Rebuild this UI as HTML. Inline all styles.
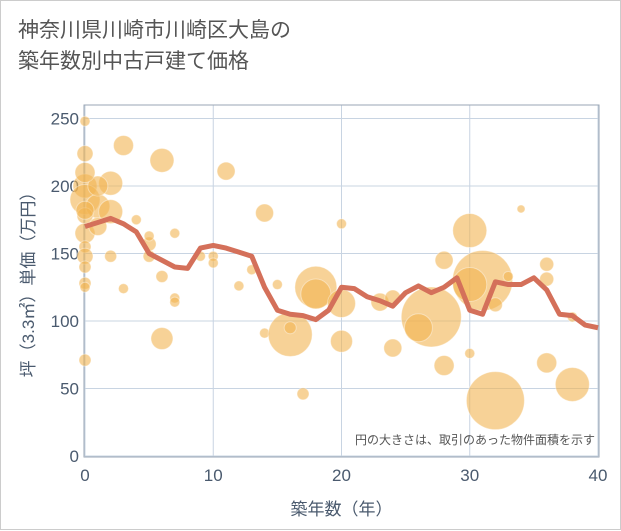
<!DOCTYPE html>
<html><head><meta charset="utf-8"><style>
body{margin:0;background:#fff;}
#wrap{position:relative;width:621px;height:530px;background:#fff;border:1px solid #ccc;box-sizing:border-box;font-family:"Liberation Sans","Noto Sans CJK JP",sans-serif;}
#title{position:absolute;left:17px;top:14px;font-size:21px;line-height:31px;color:#555;}
</style></head><body>
<div id="wrap">
<div id="title">神奈川県川崎市川崎区大島の<br>築年数別中古戸建て価格</div>
<svg id="chart" width="621" height="530" style="position:absolute;left:0;top:0"></svg>
</div>
<script>
const lineYears=[0,1,2,3,4,5,6,7,8,9,10,11,12,13,14,15,16,17,18,19,20,21,22,23,24,25,26,27,28,29,30,31,32,33,34,35,36,37,38,39,40];
const lineValues=[170,173,176,172,166,150,145,140,139,154,156,154,151,148,125,108,105,104,101,108,125,124,118,115,111,121,126,121,125,132,108,105,129,127,127,132,123,105,104,97,95];
const bubbleX=[0,0,0,0,1,0,0,0,0,0,0,0,0,2,2,1,3,6,4,2,5,5,5,7,3,6,7,7,6,9,10,10,11,14,13,12,15,14,16,16,18,18,17,20,20,20,30,34,28,31,30,27,26,23,24,24,28,30,32,36,38,36,36,38,32,33,0,0,1];
const bubbleY=[248,224,200,190,185,178,165,155,148,140,128,125,71,202,181,200,230,219,175,148,148,157,163,165,124,133,117,114,87,148,148,143,211,180,138,126,127,91,90,95,125,120,46,113,85,172,167,183,145,130,127,103,95,114,117,80,67,76,41,69,53,142,131,103,112,133,210,182,170];
const bubbleR=[5,8,12,15,12,8,10,6,8,6,6,5,6,12,12,10,10,12,5,6,6,7,5,5,5,6,5,5,11,5,5,5,9,9,5,5,5,5,22,6,21,15,6,14,11,5,17,4,9,30,17,30,14,9,8,9,10,5,29,10,17,7,7,5,7,5,10,9,9];
const xTicks=[0,10,20,30,40];
const yTicks=[0,50,100,150,200,250];
const L=84,R=597,T=104,B=455;
const sx=v=>L+(v/40)*(R-L);
const sy=v=>B-v*1.35;
const svg=document.getElementById('chart');
const NS='http://www.w3.org/2000/svg';
function mk(t,a){const e=document.createElementNS(NS,t);for(const k in a)e.setAttribute(k,a[k]);svg.appendChild(e);return e;}
yTicks.forEach(v=>{const g=mk('line',{x1:L,x2:R,y1:sy(v),y2:sy(v),stroke:'#c8d4e2','stroke-width':1});


const t=mk('text',{x:L-6,y:sy(v)+6,'text-anchor':'end','font-size':17,fill:'#4a5a6e'});t.textContent=v;

});
xTicks.forEach(v=>{const g=mk('line',{x1:sx(v),x2:sx(v),y1:T,y2:B,stroke:'#c8d4e2','stroke-width':1});


const t=mk('text',{x:sx(v),y:B+25,'text-anchor':'middle','font-size':17,fill:'#4a5a6e'});t.textContent=v;

});
const fr=mk('rect',{x:L-1,y:T,width:R-L+2,height:B-T+1,fill:'none',stroke:'#9aa6b4','stroke-width':1});


bubbleX.forEach((x,i)=>{const c=mk('circle',{cx:sx(x),cy:sy(bubbleY[i]),r:bubbleR[i],fill:'#f2b451','fill-opacity':0.6,stroke:'#fff','stroke-opacity':0.4,'stroke-width':1});

});
const p=mk('polyline',{points:lineYears.map((x,i)=>sx(x)+','+sy(lineValues[i])).join(' '),fill:'none',stroke:'#d4705a','stroke-width':5,'stroke-linejoin':'round'});


const n=mk('text',{x:594,y:443,'text-anchor':'end','font-size':12,fill:'#555'});n.textContent='円の大きさは、取引のあった物件面積を示す';


const xt=mk('text',{x:(L+R)/2,y:514,'text-anchor':'middle','font-size':17,fill:'#4a5a6e'});xt.textContent='築年数（年）';


const yt=mk('text',{x:0,y:0,'text-anchor':'middle','font-size':17,fill:'#4a5a6e',transform:'translate(33,'+((T+B)/2)+') rotate(-90)'});yt.textContent='坪（3.3㎡）単価（万円）';


</script>
</body></html>
